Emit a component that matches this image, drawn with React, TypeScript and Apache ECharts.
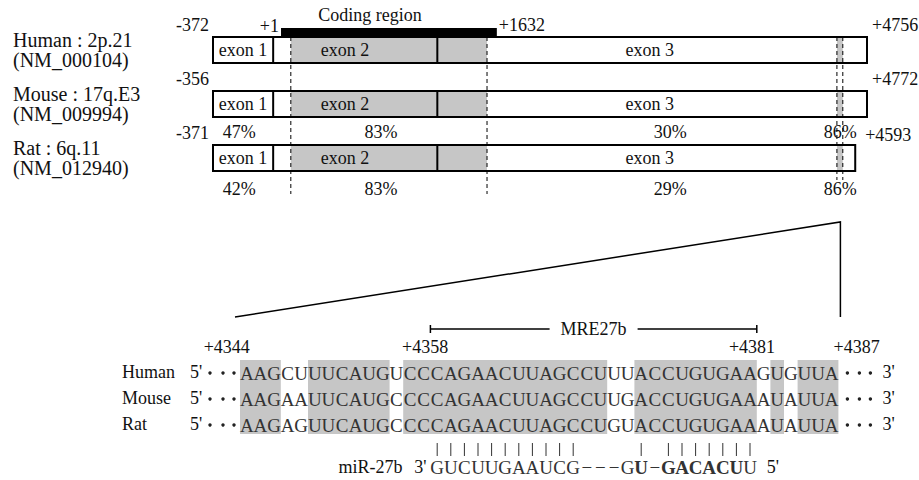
import React, { useEffect, useRef } from "react";
import * as echarts from "echarts";

// ---------- gene map data ----------
const speciesNames = ["Human", "Mouse", "Rat"];
const chromosomeBands = ["2p.21", "17q.E3", "6q.11"];
const accessions = ["NM_000104", "NM_009994", "NM_012940"];
const transcriptStartLabels = ["-372", "-356", "-371"];
const transcriptEndLabels = ["+4756", "+4772", "+4593"];
// schematic track coordinates (0–100 = drawn length of the human transcript)
const trackEnds = [100, 100, 98.2];
const exonNames = ["exon 1", "exon 2", "exon 3"];
const exonLabelAt = [4.6, 20.2, 66.8];
const exonBoundaries = [9.2, 34.3];
const cdsShade = [11.9, 41.9];
const mreShade = [95.4, 96.3];
const codingBar = [10.4, 43.4];
const codingLabelAt = 24.0;
const codingLabels = ["+1", "+1632"];
const identityAt = [4.0, 25.7, 69.9, 95.9];
const humanMouseIdentity = [47, 83, 30, 86];
const humanRatIdentity = [42, 83, 29, 86];

// ---------- alignment data ----------
const firstPosition = 4344;
const lastPosition = 4387;
const humanSeq = "AAGCUUUCAUGUCCCAGAACUUAGCCUUUACCUGUGAAGUGUUA";
const mouseSeq = "AAGAAUUCAUGCCCCAGAACUUAGCCUUGACCUGUGAAAUAUUA";
const ratSeq = "AAGAGUUCAUGCCCCAGAACUUAGCCUGUACCUGUGAAAUAUUA";
const markedPositions = [4344, 4358, 4381, 4387];
const mreSpan = [4358, 4381];
const mreName = "MRE27b";
const mirName = "miR-27b";
const mirSeq = "GUCUUGAAUCG\u2212\u2212\u2212GU\u2212GACACUU";
const mirStart = 4358;
const mirBold = [15, 17, 18, 19, 20, 21, 22];

const positions: string[] = [];
for (let p = firstPosition; p <= lastPosition; p++) positions.push(String(p));
const seqs = [humanSeq, mouseSeq, ratSeq];

const FONT = "Liberation Serif, serif";
const INK = "#111";
const GRAY = "#c6c6c6";

function txt(x: number, y: number, text: string, align = "center", extra: any = {}) {
  return {
    type: "text",
    style: {
      x, y, text, fill: INK, fontFamily: FONT, fontSize: 18,
      align, verticalAlign: "middle", ...extra,
    },
  };
}
function line(x1: number, y1: number, x2: number, y2: number, extra: any = {}) {
  return {
    type: "line",
    shape: { x1, y1, x2, y2 },
    style: { stroke: "#000", lineWidth: 1, ...extra },
  };
}

function renderGene(params: any, api: any) {
  const i = params.dataIndex;
  const X = (v: number) => api.coord([v, i])[0];
  const yc = api.coord([0, i])[1];
  const h = 26;
  const top = yc - h / 2;
  const end = trackEnds[i];
  const c: any[] = [];
  c.push({ type: "rect", shape: { x: X(0), y: top, width: X(end) - X(0), height: h }, style: { fill: "#fff" } });
  c.push({ type: "rect", shape: { x: X(cdsShade[0]), y: top, width: X(cdsShade[1]) - X(cdsShade[0]), height: h }, style: { fill: GRAY } });
  c.push({ type: "rect", shape: { x: X(mreShade[0]), y: top, width: X(mreShade[1]) - X(mreShade[0]), height: h }, style: { fill: GRAY } });
  exonBoundaries.forEach((b) => c.push(line(X(b), top, X(b), top + h, { lineWidth: 2 })));
  c.push({ type: "rect", shape: { x: X(0), y: top, width: X(end) - X(0), height: h }, style: { fill: "none", stroke: "#000", lineWidth: 2 } });
  exonNames.forEach((n, k) => c.push(txt(X(exonLabelAt[k]), yc, n)));
  c.push(txt(X(0) - 4, top - 12, transcriptStartLabels[i], "right"));
  c.push(txt(X(end) + (i === 2 ? 10 : 5), top - (i === 2 ? 10 : 12), transcriptEndLabels[i], "left"));
  if (i === 1) humanMouseIdentity.forEach((v, k) => c.push(txt(X(identityAt[k]), yc + 28, v + "%")));
  if (i === 2) humanRatIdentity.forEach((v, k) => c.push(txt(X(identityAt[k]), yc + 31, v + "%")));
  if (i === 0) {
    c.push({ type: "rect", shape: { x: X(codingBar[0]), y: top - 9, width: X(codingBar[1]) - X(codingBar[0]), height: 9 }, style: { fill: "#000" } });
    c.push(txt(X(codingLabelAt), top - 22, "Coding region"));
    c.push(txt(X(codingBar[0]) - 2, top - 11, codingLabels[0], "right"));
    c.push(txt(X(codingBar[1]) + 2, top - 12, codingLabels[1], "left"));
  }
  if (i === 2) {
    const hTop = api.coord([0, 0])[1] - h / 2;
    const dash = { lineDash: [4, 3], lineWidth: 1 };
    c.push(line(X(cdsShade[0]), hTop, X(cdsShade[0]), yc + 36, dash));
    c.push(line(X(cdsShade[1]), hTop, X(cdsShade[1]), yc + 36, dash));
    c.push(line(X(mreShade[0]), hTop, X(mreShade[0]), yc + 22, dash));
    c.push(line(X(mreShade[1]), hTop, X(mreShade[1]), yc + 22, dash));
  }
  return { type: "group", children: c };
}

function renderAlign(params: any, api: any) {
  const r = params.dataIndex;
  const seq = seqs[r];
  const cw = api.size([1, 0])[0];
  const rh = api.size([0, 1])[1];
  const cx = (k: number) => api.coord([k, r])[0];
  const yc = api.coord([0, r])[1];
  const c: any[] = [];
  const n = seq.length;
  const left = cx(0) - cw / 2;
  const right = cx(n - 1) + cw / 2;
  if (r === 0) {
    // conserved shading
    const ratY = api.coord([0, 2])[1];
    let k = 0;
    while (k < n) {
      if (humanSeq[k] === mouseSeq[k] && humanSeq[k] === ratSeq[k]) {
        let j = k;
        while (j + 1 < n && humanSeq[j + 1] === mouseSeq[j + 1] && humanSeq[j + 1] === ratSeq[j + 1]) j++;
        c.push({ type: "rect", shape: { x: cx(k) - cw / 2, y: yc - rh / 2 + 1, width: (j - k + 1) * cw, height: ratY - yc + rh - 4 }, style: { fill: GRAY } });
        k = j + 1;
      } else k++;
    }
    // zoom lines
    c.push({ type: "polyline", shape: { points: [[left - 5, yc - 55], [right + 2, yc - 150], [right + 2, yc - 55]] }, style: { stroke: "#000", lineWidth: 1.5, fill: "none" } });
    // MRE bracket
    const m0 = cx(mreSpan[0] - firstPosition) - cw / 2;
    const m1 = cx(mreSpan[1] - firstPosition) + cw / 2;
    const by = yc - 43;
    c.push(line(m0, by, m1, by, { lineWidth: 1.5 }));
    c.push(line(m0, by - 4, m0, by + 4, { lineWidth: 1.5 }));
    c.push(line(m1, by - 4, m1, by + 4, { lineWidth: 1.5 }));
    c.push(txt((m0 + m1) / 2, by, mreName, "center", { backgroundColor: "#fff", padding: [0, 11] }));
    // position labels
    const dx = [-20, -12, 2, 25];
    markedPositions.forEach((p, q) => c.push(txt(cx(p - firstPosition) + dx[q], yc - 25, "+" + p)));
  }
  // row decorations
  c.push(txt(left - 50, yc, "5'", "left"));
  [-30, -17, -6].forEach((d) => c.push({ type: "circle", shape: { cx: left + d, cy: yc + 1, r: 1.7 }, style: { fill: "#222" } }));
  [9, 21, 32].forEach((d) => c.push({ type: "circle", shape: { cx: right + d, cy: yc + 1, r: 1.7 }, style: { fill: "#222" } }));
  c.push(txt(right + 44, yc, "3'", "left"));
  for (let k = 0; k < n; k++) {
    c.push(txt(cx(k), yc + 1, seq[k], "center", { fill: "#333", fontSize: 19 }));
  }
  if (r === 2) {
    const s = mirStart - firstPosition;
    const pairs: Record<string, boolean> = { AU: true, UA: true, GC: true, CG: true };
    for (let q = 0; q < mirSeq.length; q++) {
      const x = cx(s + q);
      if (pairs[mirSeq[q] + humanSeq[s + q]]) c.push(line(x, yc + 19, x, yc + 32, { stroke: "#333" }));
      c.push(txt(x, yc + 43, mirSeq[q], "center", { fill: "#333", fontSize: 19, fontWeight: mirBold.indexOf(q) >= 0 ? "bold" : "normal" }));
    }
    const mLeft = cx(s) - cw / 2;
    const mRight = cx(s + mirSeq.length - 1) + cw / 2;
    c.push(txt(mLeft - 4, yc + 43, "3'", "right"));
    c.push(txt(mLeft - 28, yc + 43, mirName, "right"));
    c.push(txt(mRight + 10, yc + 43, "5'", "left"));
  }
  return { type: "group", children: c };
}

const option: any = {
  animation: false,
  backgroundColor: "#fff",
  grid: [
    { left: 213, right: 52, top: 23, height: 162 },
    { left: 240, right: 80.6, top: 359, height: 78 },
  ],
  xAxis: [
    { type: "value", gridIndex: 0, min: 0, max: 100, show: false },
    { type: "category", gridIndex: 1, data: positions, show: false },
  ],
  yAxis: [
    {
      type: "category", gridIndex: 0, data: speciesNames, inverse: true,
      axisLine: { show: false }, axisTick: { show: false },
      axisLabel: {
        margin: 200, align: "left", color: INK, fontFamily: FONT, fontSize: 20, lineHeight: 20,
        formatter: (v: string, idx: number) => `${v} : ${chromosomeBands[idx]}\n(${accessions[idx]})`,
      },
    },
    {
      type: "category", gridIndex: 1, data: speciesNames, inverse: true,
      axisLine: { show: false }, axisTick: { show: false },
      axisLabel: { margin: 118, align: "left", color: INK, fontFamily: FONT, fontSize: 18 },
    },
  ],
  series: [
    {
      type: "custom", xAxisIndex: 0, yAxisIndex: 0, renderItem: renderGene,
      data: speciesNames.map((s, i) => [trackEnds[i], s]), clip: false,
    },
    {
      type: "custom", xAxisIndex: 1, yAxisIndex: 1, renderItem: renderAlign,
      data: speciesNames.map((s) => [positions[0], s]), clip: false,
    },
  ],
};

export default function App() {
  const ref = useRef<HTMLDivElement>(null);
  useEffect(() => {
    const chart = echarts.init(ref.current!, null, { renderer: "svg" });
    chart.setOption(option);
    return () => chart.dispose();
  }, []);
  return <div ref={ref} style={{ position: "fixed", left: 0, top: 0, width: 919, height: 480 }} />;
}
